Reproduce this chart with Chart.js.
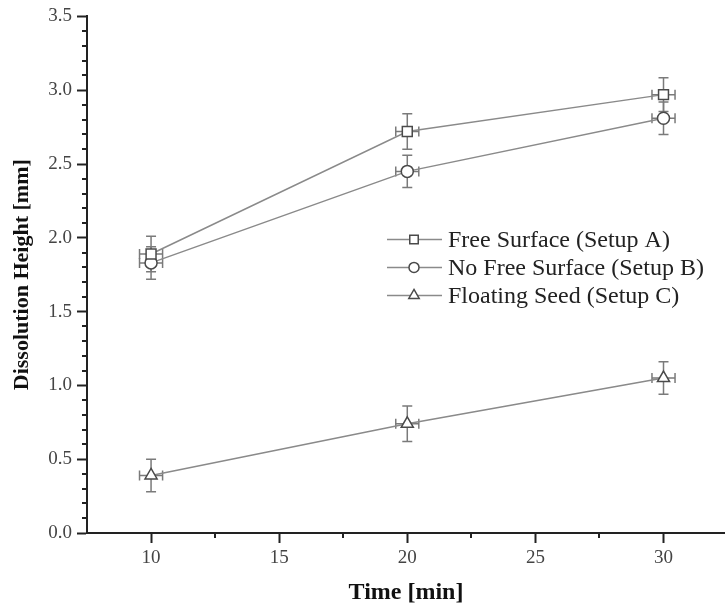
<!DOCTYPE html>
<html>
<head>
<meta charset="utf-8">
<style>
  html, body { margin: 0; padding: 0; background: #fff; }
</style>
<script src="https://cdn.jsdelivr.net/npm/chart.js@4.4.0/dist/chart.umd.min.js"></script>
</head>
<body>
<canvas id="chart" width="725" height="610"></canvas>
<script>
// data
const times = [10, 20, 30];
const timeErr = [0.45, 0.45, 0.45];
const setupA = [1.89, 2.72, 2.97];
const setupAErr = [0.12, 0.12, 0.115];
const setupB = [1.83, 2.45, 2.81];
const setupBErr = [0.11, 0.11, 0.11];
const setupC = [0.39, 0.74, 1.05];
const setupCErr = [0.11, 0.12, 0.11];
const seriesNames = ["Free Surface (Setup A)", "No Free Surface (Setup B)", "Floating Seed (Setup C)"];
const xTicks = [10, 15, 20, 25, 30];
const xMinorTicks = [12.5, 17.5, 22.5, 27.5];
const yTicks = [0, 0.5, 1, 1.5, 2, 2.5, 3, 3.5];

const serif = "'Liberation Serif', 'Times New Roman', serif";
const lineGray = "#8a8a8a";
const markGray = "#4a4a4a";

function points(ys) {
  return times.map((t, i) => ({ x: t, y: ys[i] }));
}

function series(label, ys, errs, style, radius) {
  return {
    label: label,
    data: points(ys),
    errY: errs,
    errX: timeErr,
    showLine: true,
    borderColor: lineGray,
    borderWidth: 1.5,
    pointStyle: style,
    pointRadius: radius,
    pointBorderColor: markGray,
    pointBackgroundColor: "#fff",
    pointBorderWidth: 1.5,
  };
}

// error bars in both directions, drawn under the markers
const errorBars = {
  id: "errorBars",
  beforeDatasetsDraw(chart) {
    const { ctx, scales: { x, y } } = chart;
    ctx.save();
    ctx.strokeStyle = "#7a7a7a";
    ctx.lineWidth = 1.5;
    chart.data.datasets.forEach((ds) => {
      ds.data.forEach((p, i) => {
        const px = x.getPixelForValue(p.x);
        const py = y.getPixelForValue(p.y);
        const top = y.getPixelForValue(p.y + ds.errY[i]);
        const bot = y.getPixelForValue(p.y - ds.errY[i]);
        const lft = x.getPixelForValue(p.x - ds.errX[i]);
        const rgt = x.getPixelForValue(p.x + ds.errX[i]);
        ctx.beginPath();
        ctx.moveTo(px, top); ctx.lineTo(px, bot);
        ctx.moveTo(px - 5, top); ctx.lineTo(px + 5, top);
        ctx.moveTo(px - 5, bot); ctx.lineTo(px + 5, bot);
        ctx.moveTo(lft, py); ctx.lineTo(rgt, py);
        ctx.moveTo(lft, py - 5); ctx.lineTo(lft, py + 5);
        ctx.moveTo(rgt, py - 5); ctx.lineTo(rgt, py + 5);
        ctx.stroke();
      });
    });
    ctx.restore();
  },
};

// short minor ticks on both axes
const minorTicks = {
  id: "minorTicks",
  afterDraw(chart) {
    const { ctx, chartArea, scales: { x, y } } = chart;
    ctx.save();
    ctx.strokeStyle = "#222";
    ctx.lineWidth = 2;
    ctx.beginPath();
    for (let k = 1; k < 35; k++) {
      if (k % 5 === 0) continue;
      const py = Math.round(y.getPixelForValue(k / 10));
      ctx.moveTo(chartArea.left - 5, py);
      ctx.lineTo(chartArea.left, py);
    }
    xMinorTicks.forEach((v) => {
      const px = Math.round(x.getPixelForValue(v));
      ctx.moveTo(px, chartArea.bottom);
      ctx.lineTo(px, chartArea.bottom + 5);
    });
    ctx.stroke();
    ctx.restore();
  },
};

// legend inside the plot, line-marker-line like the original
const insideLegend = {
  id: "insideLegend",
  afterDraw(chart) {
    const { ctx, chartArea } = chart;
    const x0 = chartArea.left + 300;
    const y0 = chartArea.top + 223;
    ctx.save();
    chart.data.datasets.forEach((ds, i) => {
      const yy = y0 + i * 28;
      ctx.strokeStyle = lineGray;
      ctx.lineWidth = 1.5;
      ctx.beginPath();
      ctx.moveTo(x0, yy);
      ctx.lineTo(x0 + 55, yy);
      ctx.stroke();
      ctx.fillStyle = "#fff";
      ctx.strokeStyle = markGray;
      Chart.helpers.drawPoint(ctx, {
        pointStyle: ds.pointStyle,
        radius: ds.pointRadius - 1,
        borderWidth: 1.5,
      }, x0 + 27, yy);
      ctx.fillStyle = "#222";
      ctx.font = "24px " + serif;
      ctx.textBaseline = "middle";
      ctx.fillText(ds.label, x0 + 61, yy + 1);
    });
    ctx.restore();
  },
};

new Chart(document.getElementById("chart"), {
  type: "scatter",
  data: {
    datasets: [
      series(seriesNames[0], setupA, setupAErr, "rect", 7),
      series(seriesNames[1], setupB, setupBErr, "circle", 6),
      series(seriesNames[2], setupC, setupCErr, "triangle", 7),
    ],
  },
  options: {
    responsive: false,
    animation: false,
    devicePixelRatio: 1,
    layout: { autoPadding: false, padding: { top: 14, right: 0, left: 0, bottom: 0 } },
    plugins: {
      legend: { display: false },
      tooltip: { enabled: false },
    },
    scales: {
      x: {
        type: "linear",
        min: 7.5,
        max: 32.4,
        afterBuildTicks: (s) => { s.ticks = xTicks.map((v) => ({ value: v })); },
        afterFit: (s) => { s.height = 77; s.paddingRight = 0; s.paddingLeft = 0; },
        grid: { drawOnChartArea: false, drawTicks: true, tickLength: 10, tickWidth: 2, tickColor: "#222" },
        border: { color: "#222", width: 2 },
        ticks: { font: { family: serif, size: 19 }, color: "#444", padding: 4, maxRotation: 0, autoSkip: false },
        title: {
          display: true,
          text: "Time [min]",
          font: { family: serif, size: 24, weight: "bold" },
          color: "#111",
          padding: { top: 0, bottom: 3 },
        },
      },
      y: {
        type: "linear",
        min: 0,
        max: 3.5,
        afterBuildTicks: (s) => { s.ticks = yTicks.map((v) => ({ value: v })); },
        afterFit: (s) => { s.width = 87; },
        grid: { drawOnChartArea: false, drawTicks: true, tickLength: 10, tickWidth: 2, tickColor: "#222" },
        border: { color: "#222", width: 2 },
        ticks: {
          font: { family: serif, size: 19 },
          color: "#444",
          padding: 5,
          callback: (v) => v.toFixed(1),
        },
        title: {
          display: true,
          text: "Dissolution Height [mm]",
          font: { family: serif, size: 22, weight: "bold" },
          color: "#111",
          padding: { top: 9, bottom: 0 },
        },
      },
    },
  },
  plugins: [errorBars, minorTicks, insideLegend],
});
</script>
</body>
</html>
